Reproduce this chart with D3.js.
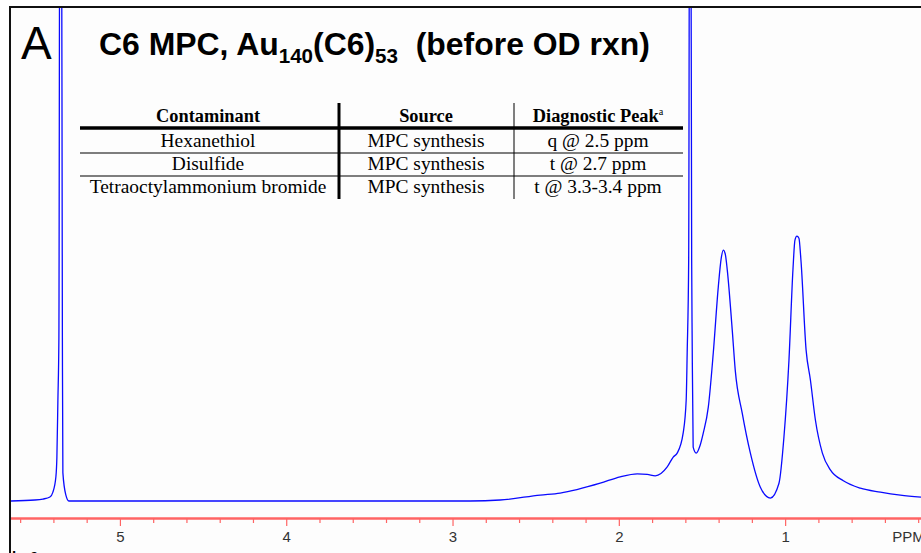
<!DOCTYPE html>
<html>
<head>
<meta charset="utf-8">
<script src="https://cdn.jsdelivr.net/npm/d3@7"></script>
<style>
  body { margin: 0; background: #fff; }
  svg { display: block; }
</style>
</head>
<body>
<div id="spectrum"></div>
<script>
// 1H NMR trace, chemical shift (ppm) vs. intensity (arbitrary, baseline = 0)
// values above 100 are off-scale peaks that get clipped at the top
const shifts = [5.661, 5.511, 5.463, 5.421, 5.403, 5.385, 5.379, 5.373, 5.367, 5.361, 5.352, 5.346, 5.343, 5.325, 5.307,
  5.289, 4.519, 3.917, 3.315, 2.894, 2.714, 2.473, 2.353, 2.112, 1.992, 1.889, 1.829, 1.781, 1.709, 1.673, 1.649, 1.613,
  1.595, 1.589, 1.580, 1.574, 1.568, 1.562, 1.559, 1.553, 1.535, 1.511, 1.492, 1.462, 1.432, 1.402, 1.384, 1.372, 1.360,
  1.348, 1.318, 1.300, 1.258, 1.209, 1.149, 1.089, 1.037, 1.007, 0.977, 0.953, 0.941, 0.929, 0.917, 0.905, 0.874, 0.848,
  0.818, 0.776, 0.728, 0.650, 0.548, 0.427, 0.307, 0.183];
const intensity = [0, 0.2, 0.4, 0.8, 1.8, 4.9, 8.9, 20.4, 33, 140, 140, 33, 5.7, 1.2, 0,
  0, 0, 0, 0, 0, 0.2, 1.2, 1.6, 3.6, 4.9, 5.5, 5.4, 5.1, 6.9, 8.9, 9.7, 13.8,
  20.4, 30, 48.8, 140, 140, 48.8, 32.6, 10.9, 9.7, 11.3, 13.8, 19.0, 30.0, 43.3, 49.2, 50.8, 50.0,
  46.8, 34.6, 26.5, 17.8, 9.7, 2.8, 0.6, 3.6, 13.0, 28.5, 46.8, 52.8, 53.6, 53.2, 48.8, 30.6, 24.5,
  16.4, 9.7, 6.3, 4.1, 2.6, 1.8, 1.2, 0.8];

const tickValues = [5.6, 5.4, 5.2, 5, 4.8, 4.6, 4.4, 4.2, 4, 3.8, 3.6, 3.4, 3.2, 3, 2.8, 2.6, 2.4, 2.2, 2,
  1.8, 1.6, 1.4, 1.2, 1, 0.8, 0.6, 0.4, 0.2];
const labelTicks = [5, 4, 3, 2, 1];

// inset table
const headers = ["Contaminant", "Source", "Diagnostic Peak"];
const contaminants = ["Hexanethiol", "Disulfide", "Tetraoctylammonium bromide"];
const sources = ["MPC synthesis", "MPC synthesis", "MPC synthesis"];
const peaks = ["q @ 2.5 ppm", "t @ 2.7 ppm", "t @ 3.3-3.4 ppm"];

function drawSpectrum() {
    const W = 921, H = 553;
    const left = 10, top = 7, axisY = 518;

    const svg = d3.select("#spectrum")
        .append("svg")
        .attr("width", W)
        .attr("height", H);

    svg.append("rect")
        .attr("x", left).attr("y", top)
        .attr("width", W - left).attr("height", H - top)
        .attr("fill", "#fdfdfd");

    // scales: ppm runs right to left as usual for NMR
    const x = d3.scaleLinear().domain([5.661, 0.183]).range([left, W]);
    const y = d3.scaleLinear().domain([0, 100]).range([501, top]);

    svg.append("clipPath").attr("id", "plot-clip")
        .append("rect")
        .attr("x", left + 1).attr("y", top + 1)
        .attr("width", W - left).attr("height", axisY - top - 1);

    const points = shifts.map((s, i) => ({ppm: s, val: intensity[i]}));

    const line = d3.line()
        .curve(d3.curveMonotoneX)
        .x(d => x(d.ppm))
        .y(d => y(d.val));

    svg.append("path")
        .datum(points)
        .attr("clip-path", "url(#plot-clip)")
        .attr("d", line)
        .attr("fill", "none")
        .attr("stroke", "#0a0aff")
        .attr("stroke-width", 1.3)
        .attr("stroke-linejoin", "round");

    // ppm axis
    const axis = svg.append("g")
        .attr("transform", `translate(0,${axisY})`)
        .call(d3.axisBottom(x)
            .tickValues(tickValues)
            .tickSize(5)
            .tickSizeOuter(0)
            .tickPadding(8)
            .tickFormat(d => labelTicks.includes(d) ? d : ""));

    axis.select(".domain")
        .attr("stroke", "#ff6464")
        .attr("stroke-width", 2.5);
    axis.selectAll(".tick line")
        .attr("stroke", "#ff6464")
        .attr("stroke-width", 1.2)
        .attr("y2", d => labelTicks.includes(d) ? 8 : 5);
    axis.selectAll(".tick text")
        .attr("fill", "#333")
        .style("font-family", "Liberation Sans, Arial, sans-serif")
        .style("font-size", "15px");

    svg.append("text")
        .attr("x", x(0.2) - 26)
        .attr("y", axisY + 24)
        .attr("fill", "#333")
        .style("font-family", "Liberation Sans, Arial, sans-serif")
        .style("font-size", "15px")
        .text("PPM");

    // frame
    svg.append("path")
        .attr("d", `M${left},${H} V${top} H${W}`)
        .attr("fill", "none")
        .attr("stroke", "#111")
        .attr("stroke-width", 2);

    // panel letter
    svg.append("text")
        .attr("x", 21).attr("y", 59)
        .style("font-family", "Liberation Sans, Arial, sans-serif")
        .style("font-size", "46px")
        .text("A");

    // title with subscripts
    const title = svg.append("text")
        .attr("transform", "translate(99,55) scale(1.03,1)")
        .style("font-family", "Liberation Sans, Arial, sans-serif")
        .style("font-weight", "bold")
        .style("font-size", "31px");
    title.append("tspan").text("C6 MPC, Au");
    title.append("tspan").attr("dy", 8).style("font-size", "20px").text("140");
    title.append("tspan").attr("dy", -8).text("(C6)");
    title.append("tspan").attr("dy", 8).style("font-size", "20px").text("53");
    title.append("tspan").attr("dy", -8).style("white-space", "pre").text("  (before OD rxn)");

    // inset table
    const table = svg.append("g")
        .style("font-family", "Liberation Serif, Times New Roman, serif")
        .style("font-size", "18px");
    const colCenters = [208, 426, 598];
    const headBase = 122, rowBase = [147, 170, 193];
    const sx = 1.08;

    headers.forEach((h, i) => {
        const t = table.append("text")
            .attr("transform", `translate(${colCenters[i]},${headBase}) scale(1.02,1)`)
            .attr("text-anchor", "middle")
            .style("font-weight", "bold")
            .text(h);
        if (i === 2) {
            t.append("tspan").attr("dy", -7).style("font-size", "10px").style("font-weight", "normal").text("a");
        }
    });

    const columns = [contaminants, sources, peaks];
    columns.forEach((col, c) => {
        col.forEach((v, r) => {
            table.append("text")
                .attr("transform", `translate(${colCenters[c]},${rowBase[r]}) scale(${sx},1)`)
                .attr("text-anchor", "middle")
                .text(v);
        });
    });

    table.append("line")
        .attr("x1", 80).attr("x2", 683).attr("y1", 128).attr("y2", 128)
        .attr("stroke", "#000").attr("stroke-width", 3.5);
    [153, 176].forEach(yy => {
        table.append("line")
            .attr("x1", 80).attr("x2", 683).attr("y1", yy).attr("y2", yy)
            .attr("stroke", "#000").attr("stroke-width", 1.2);
    });
    table.append("line")
        .attr("x1", 339).attr("x2", 339).attr("y1", 103).attr("y2", 199)
        .attr("stroke", "#000").attr("stroke-width", 3);
    table.append("line")
        .attr("x1", 514).attr("x2", 514).attr("y1", 103).attr("y2", 199)
        .attr("stroke", "#000").attr("stroke-width", 1);

    // cut-off label at the bottom edge
    svg.append("text")
        .attr("x", 12).attr("y", 562)
        .style("font-family", "Liberation Sans, Arial, sans-serif")
        .style("font-weight", "bold")
        .style("font-size", "15px")
        .text("b=0");
}

document.addEventListener("DOMContentLoaded", drawSpectrum);
</script>
</body>
</html>
